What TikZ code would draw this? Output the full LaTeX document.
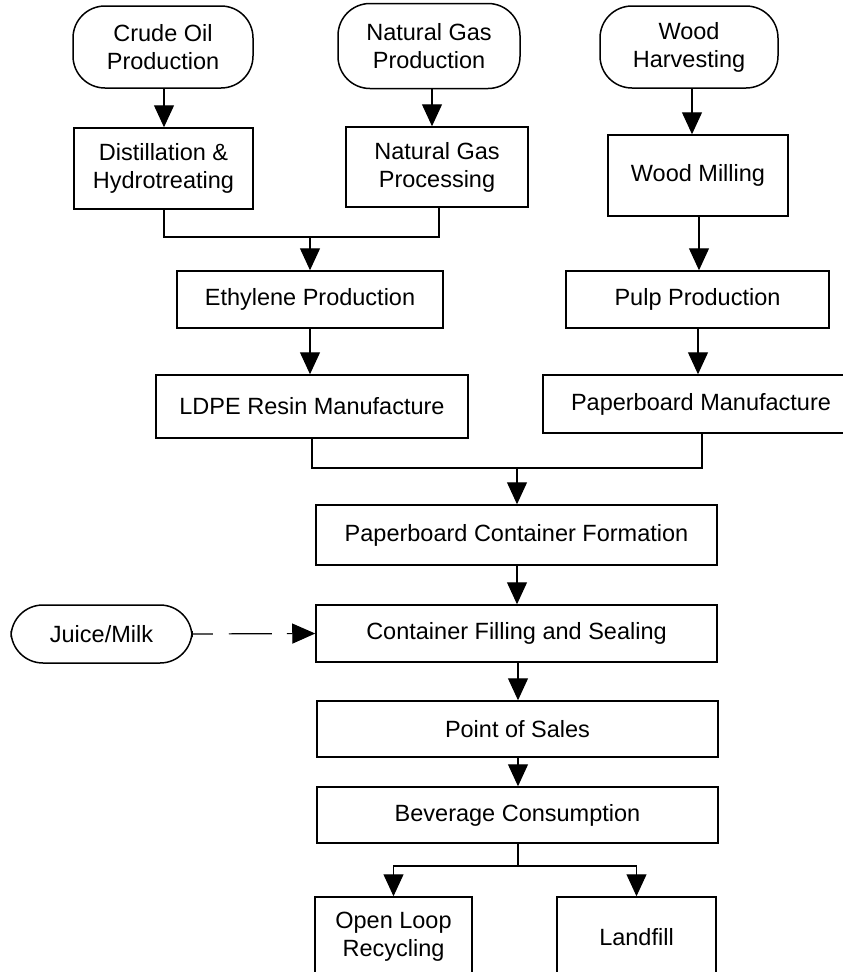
\documentclass[tikz,border=0pt]{standalone}
\usepackage{fontspec}
\setmainfont{Liberation Sans}
\usetikzlibrary{arrows.meta}
\begin{document}
\begin{tikzpicture}[x=1pt,y=-1pt,
  every node/.style={font=\fontsize{23.5}{28}\selectfont, align=center, inner sep=0pt},
  proc/.style={draw, line width=1.5pt, rectangle},
  source/.style={draw, line width=1.5pt, rectangle, rounded corners=32pt},
  link/.style={line width=1.2pt},
  flow/.style={link, -{Triangle[length=22pt,width=20pt]}},
]
\useasboundingbox (0,0) rectangle (843,972);

% raw material sources
\node[source, minimum width=180pt, minimum height=82pt] (crude)  at (163,47)  {Crude Oil\\Production};
\node[source, minimum width=182pt, minimum height=85pt] (ngprod) at (429,46)  {Natural Gas\\Production};
\node[source, minimum width=178pt, minimum height=82pt] (wood)   at (689,47)  {Wood\\Harvesting};

% first processing stage
\node[proc, minimum width=179pt, minimum height=81pt] (distil) at (163.5,168.5) {Distillation \&\\Hydrotreating};
\node[proc, minimum width=182pt, minimum height=80pt] (ngproc) at (437,167)     {Natural Gas\\Processing};
\node[proc, minimum width=180pt, minimum height=81pt] (mill)   at (698,175.5)   {Wood Milling};

% intermediates
\node[proc, minimum width=266pt, minimum height=57pt] (ethyl) at (310,299.5) {Ethylene Production};
\node[proc, minimum width=263pt, minimum height=57pt] (pulp)  at (697.5,299.5) {Pulp Production};
\node[proc, minimum width=312pt, minimum height=63pt] (ldpe)  at (312,406.5) {LDPE Resin Manufacture};
\node[proc, minimum width=316pt, minimum height=58pt] (pbman) at (701,404)   {Paperboard Manufacture};

% container life cycle
\node[proc, minimum width=401pt, minimum height=60pt] (pcf)  at (516.5,535) {Paperboard Container Formation};
\node[proc, minimum width=401pt, minimum height=57pt] (fill) at (516.5,633.5) {Container Filling and Sealing};
\node[source, minimum width=181pt, minimum height=58pt] (juice) at (101.5,634) {Juice/Milk};
\node[proc, minimum width=401pt, minimum height=56pt] (pos)  at (517.5,729) {Point of Sales};
\node[proc, minimum width=401pt, minimum height=56pt] (bev)  at (517.5,815) {Beverage Consumption};

% end of life
\node[proc, minimum width=157pt, minimum height=80pt] (recyc) at (393.5,937) {Open Loop\\Recycling};
\node[proc, minimum width=159pt, minimum height=80pt] (landf) at (636.5,937) {Landfill};

% junction points
\coordinate (j1) at (310,237);
\coordinate (j2) at (517,468);
\coordinate (j3) at (518,866);

% connectors
\draw[flow] (crude.south -| 164,0) -- (distil.north -| 164,0);
\draw[flow] (ngprod.south -| 432,0) -- (ngproc.north -| 432,0);
\draw[flow] (wood.south -| 692,0) -- (mill.north -| 692,0);
\draw[flow] (mill.south -| 699,0) -- (pulp.north -| 699,0);

\draw[link] (distil.south -| 164,0) |- (j1) -| (ngproc.south -| 439,0);
\draw[flow] (j1) -- (ethyl.north -| j1);

\draw[flow] (ethyl.south) -- (ldpe.north -| ethyl.south);
\draw[flow] (pulp.south -| 698,0) -- (pbman.north -| 698,0);

\draw[link] (ldpe.south) |- (j2) -| (pbman.south -| 702,0);
\draw[flow] (j2) -- (pcf.north -| j2);

\draw[flow] (pcf.south -| 517,0) -- (fill.north -| 517,0);
\draw[flow] (fill.south -| 518,0) -- (pos.north -| 518,0);
\draw[flow] (pos.south -| 518,0) -- (bev.north -| 518,0);

\draw[link] (bev.south -| j3) -- (j3);
\draw[flow] (j3) -| (recyc.north);
\draw[flow] (j3) -| (landf.north);

\draw[link, dash pattern=on 20pt off 16pt on 43pt off 15pt on 30pt off 10pt,
      -{Triangle[length=23pt,width=20pt]}] (juice.east) -- (fill.west);
\end{tikzpicture}
\end{document}
